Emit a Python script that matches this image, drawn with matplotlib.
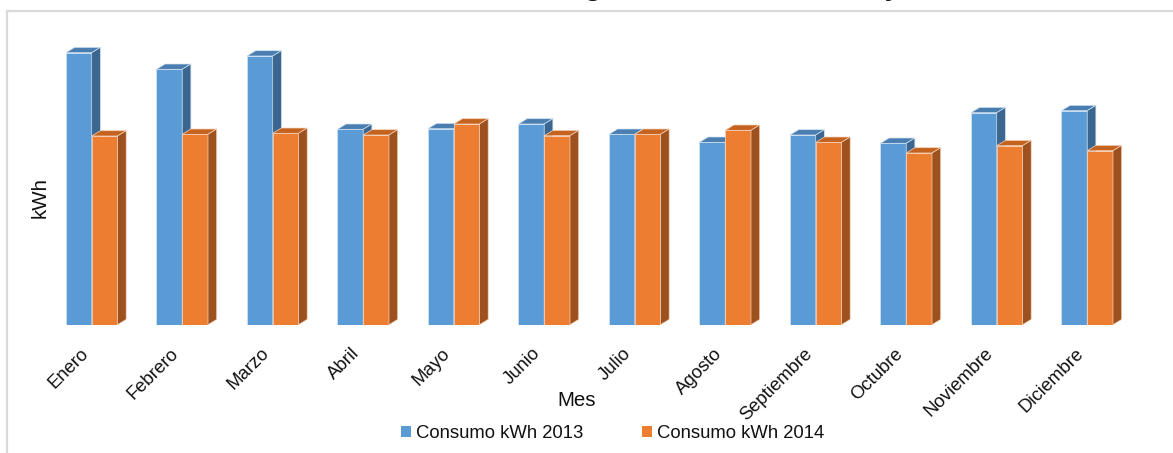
import matplotlib
matplotlib.use("Agg")
import matplotlib.pyplot as plt
from matplotlib.patches import Polygon, Patch
from matplotlib.lines import Line2D
import numpy as np

plt.rcParams['font.family'] = ['Liberation Sans', 'DejaVu Sans']

# Monthly consumption (kWh)
meses = ["Enero", "Febrero", "Marzo", "Abril", "Mayo", "Junio", "Julio",
         "Agosto", "Septiembre", "Octubre", "Noviembre", "Diciembre"]
consumo_2013 = [2720, 2554, 2687, 1954, 1960, 2007, 1904, 1824, 1897, 1814, 2120, 2140]
consumo_2014 = [1887, 1904, 1914, 1897, 2007, 1890, 1904, 1944, 1824, 1717, 1790, 1740]
series_names = ["Consumo kWh 2013", "Consumo kWh 2014"]

W, H = 1173, 453
fig = plt.figure(figsize=(W / 100, H / 100), dpi=100)

# chart-area frame (extends past the right and bottom edges)
fig.add_artist(Line2D([7 / W, 7 / W], [0, 1 - 10.5 / H], transform=fig.transFigure,
                      color="#D9D9D9", lw=1.6))
fig.add_artist(Line2D([7 / W, 1.0], [1 - 10.5 / H, 1 - 10.5 / H], transform=fig.transFigure,
                      color="#D9D9D9", lw=1.6))

base_px, top_px = 324.7, 34.7
left_px, right_px = 37.4, 1141.5
ax = fig.add_axes([left_px / W, 1 - base_px / H,
                   (right_px - left_px) / W, (base_px - top_px) / H])

x = np.arange(len(meses))
w = 0.285          # bar width
dx, dy = 0.096, 53  # oblique depth offset (x units, value units)

styles = [
    dict(front="#5B9BD5", top="#4A7DB0", side="#3B6690", edge="#CFE1F2"),
    dict(front="#ED7D31", top="#C4621F", side="#9C511E", edge="#F7D2B8"),
]

for k, (vals, st) in enumerate(zip([consumo_2013, consumo_2014], styles)):
    xs = x - w / 2 + k * w
    bars = ax.bar(xs, vals, w, color=st["front"], edgecolor=st["edge"],
                  linewidth=0.6, zorder=2 + k)
    for b in bars:
        x0 = b.get_x()
        x1 = x0 + b.get_width()
        h = b.get_height()
        top = Polygon([(x0, h), (x1, h), (x1 + dx, h + dy), (x0 + dx, h + dy)],
                      closed=True, facecolor=st["top"], edgecolor=st["edge"],
                      linewidth=0.5, zorder=2 + k)
        side = Polygon([(x1, 0), (x1 + dx, dy), (x1 + dx, h + dy), (x1, h)],
                       closed=True, facecolor=st["side"], edgecolor=st["edge"],
                       linewidth=0.5, zorder=2 + k)
        ax.add_patch(top)
        ax.add_patch(side)

ax.set_xlim(-0.6, 11.6)
ax.set_ylim(0, 2900)
for s in ax.spines.values():
    s.set_visible(False)
ax.set_yticks([])
ax.set_xticks(x, meses, rotation=45, ha="right", fontsize=13.3, color="#111111")
ax.tick_params(axis="x", length=0, pad=14.6)

# axis titles
fig.text(40 / W, 1 - 197 / H, "kWh", rotation=90, ha="center", va="center",
         fontsize=14.8, color="#111111")
fig.text(577 / W, 1 - 406 / H, "Mes", ha="center", va="baseline",
         fontsize=14.8, color="#111111")

# chart title (sits mostly above the visible canvas)
fig.text(643 / W, 1 + 7.0 / H, "Consumo de energía eléctrica 2013 y 2014",
         ha="center", va="baseline", fontsize=26.6, color="#111111")

handles = [Patch(facecolor=styles[0]["front"], edgecolor="none"),
           Patch(facecolor=styles[1]["front"], edgecolor="none")]
fig.legend(handles, series_names, loc="center", bbox_to_anchor=(612.4 / W, 1 - 433.5 / H),
           ncol=2, frameon=False, fontsize=13.3, handlelength=0.54, handleheight=0.54,
           handletextpad=0.25, columnspacing=3.2, borderpad=0, labelcolor="#111111")

fig.savefig("out.png", dpi=100)
